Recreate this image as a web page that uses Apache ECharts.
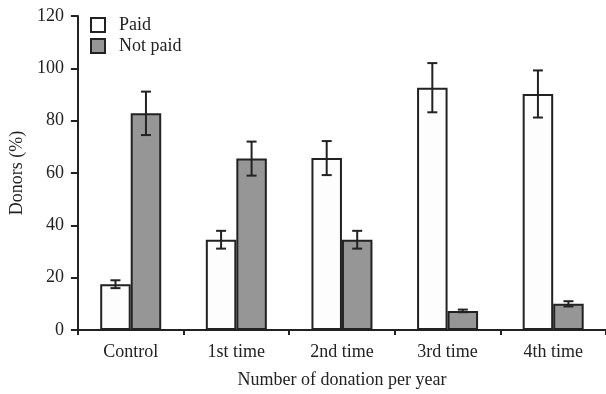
<!DOCTYPE html>
<html>
<head>
<meta charset="utf-8">
<script src="https://cdn.jsdelivr.net/npm/echarts@6/dist/echarts.min.js"></script>
<style>html,body{margin:0;padding:0;background:#fff;overflow:hidden}#c{width:606px;height:394px}</style>
</head>
<body>
<div id="c"></div>
<script>
const categories = ['Control', '1st time', '2nd time', '3rd time', '4th time'];
const paid = [17.5, 34.5, 65.7, 92.6, 90.2];
const paidErr = [1.5, 3.4, 6.5, 9.4, 9.0];
const notPaid = [82.8, 65.5, 34.5, 7.3, 10.0];
const notPaidErr = [8.3, 6.5, 3.4, 0.5, 1.0];
const yTicks = [0, 20, 40, 60, 80, 100, 120];

const FONT = '"Liberation Serif", "Times New Roman", serif';
const INK = '#222';
const BAR_W = 30.5;
const FS = 18;

function errSeries(vals, errs, side) {
  return {
    type: 'custom',
    silent: true,
    z: 5,
    data: vals.map((v, i) => [i, v, errs[i]]),
    renderItem: function (params, api) {
      const i = api.value(0), v = api.value(1), e = api.value(2);
      const top = api.coord([i, v + e]);
      const bot = api.coord([i, v - e]);
      const x = top[0] + side * BAR_W / 2;
      const cap = 5;
      const st = { stroke: INK, lineWidth: 2 };
      return {
        type: 'group',
        children: [
          { type: 'line', shape: { x1: x, y1: top[1], x2: x, y2: bot[1] }, style: st },
          { type: 'line', shape: { x1: x - cap, y1: top[1], x2: x + cap, y2: top[1] }, style: st },
          { type: 'line', shape: { x1: x - cap, y1: bot[1], x2: x + cap, y2: bot[1] }, style: st }
        ]
      };
    }
  };
}

const chart = echarts.init(document.getElementById('c'), null, { renderer: 'canvas' });
chart.setOption({
  animation: false,
  textStyle: { fontFamily: FONT },
  grid: { left: 75, right: 0, top: 16, bottom: 61 },
  legend: {
    left: 90, top: 16, orient: 'vertical', itemWidth: 14, itemHeight: 14, itemGap: 3,
    padding: 0,
    icon: 'rect',
    data: ['Paid', 'Not paid'],
    itemStyle: { borderWidth: 2, borderColor: INK },
    textStyle: { fontFamily: FONT, fontSize: FS, color: INK, padding: [0, 0, 0, 9] }
  },
  xAxis: {
    type: 'category',
    data: categories,
    name: 'Number of donation per year',
    nameLocation: 'middle',
    nameGap: 41,
    nameTextStyle: { fontFamily: FONT, fontSize: FS, color: INK },
    axisLine: { lineStyle: { color: INK, width: 2 } },
    axisTick: { show: true, length: 5, lineStyle: { color: INK, width: 2 } },
    axisLabel: { fontFamily: FONT, fontSize: FS, color: INK, margin: 13 }
  },
  yAxis: {
    type: 'value',
    min: 0, max: 120, interval: 20,
    name: 'Donors (%)',
    nameLocation: 'middle',
    nameGap: 47,
    nameTextStyle: { fontFamily: FONT, fontSize: FS, color: INK },
    splitLine: { show: false },
    axisLine: { show: true, lineStyle: { color: INK, width: 2 } },
    axisTick: { show: true, length: 7, lineStyle: { color: INK, width: 2 } },
    axisLabel: { fontFamily: FONT, fontSize: FS, color: INK, margin: 14,
      formatter: v => yTicks.includes(v) ? String(v) : '' }
  },
  series: [
    {
      name: 'Paid', type: 'bar', data: paid, barWidth: BAR_W, barGap: '0%',
      itemStyle: { color: '#fdfdfd', borderColor: INK, borderWidth: 2 }
    },
    {
      name: 'Not paid', type: 'bar', data: notPaid, barWidth: BAR_W, barGap: '0%',
      itemStyle: { color: '#969696', borderColor: INK, borderWidth: 2 }
    },
    errSeries(paid, paidErr, -1),
    errSeries(notPaid, notPaidErr, 1)
  ]
});
</script>
</body>
</html>
